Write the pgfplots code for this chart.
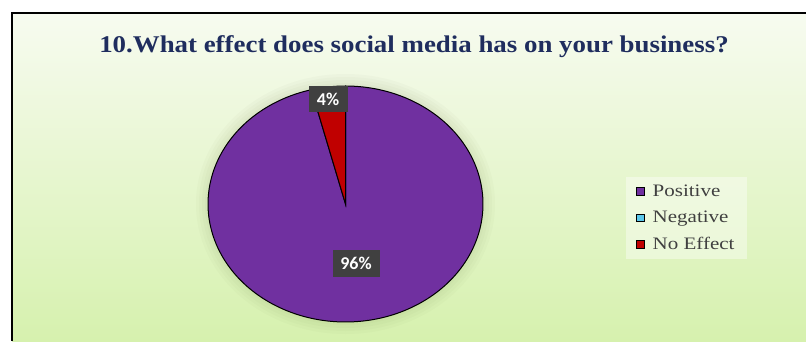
\documentclass[border=0pt]{standalone}
\usepackage{pgfplots}
\pgfplotsset{compat=1.18}
\usepackage{pgfplotstable}
\usepackage{graphicx}
\usepackage{fontspec}
\setmainfont{Liberation Serif}
\newfontfamily\labfont{Carlito}
\definecolor{pPurple}{RGB}{112,48,160}
\definecolor{pBlue}{RGB}{91,200,235}
\definecolor{pRed}{RGB}{192,0,0}
\definecolor{titleNavy}{RGB}{31,45,94}
\definecolor{labGray}{RGB}{64,64,64}
\definecolor{bgTop}{RGB}{247,251,240}
\definecolor{bgBot}{RGB}{214,241,174}
\definecolor{legTxt}{RGB}{64,64,64}
\definecolor{glow}{RGB}{110,120,70}

\pgfplotstableread[col sep=comma]{
label,value
Positive,96
Negative,0
No Effect,4
}\piedata
\pgfplotstablegetelem{0}{value}\of\piedata \let\vA\pgfplotsretval
\pgfplotstablegetelem{1}{value}\of\piedata \let\vB\pgfplotsretval
\pgfplotstablegetelem{2}{value}\of\piedata \let\vC\pgfplotsretval
\pgfmathsetmacro\aA{3.6*\vA}
\pgfmathsetmacro\aB{\aA+3.6*\vB}
\pgfmathsetmacro\aC{\aB+3.6*\vC}

\begin{document}%
\begin{tikzpicture}
\begin{axis}[
  width=806pt, height=341pt, scale only axis,
  xmin=0, xmax=806, ymin=0, ymax=341,
  hide axis, clip=false,
  legend style={at={(axis cs:626,164)}, anchor=north west,
    fill=white, fill opacity=0.4, text opacity=1, draw=none,
    font=\fontsize{17.5}{19}\selectfont\color{legTxt},
    row sep=9pt, inner xsep=10pt, inner ysep=6pt,
    /tikz/every odd column/.append style={column sep=6pt}},
  legend cell align=left,
  legend image code/.code={\draw[#1, draw=black, fill opacity=1, draw opacity=1, line width=1pt] (0pt,-3.75pt) rectangle (7.5pt,3.75pt);},
]
% background and frame
\coordinate (BL) at (axis cs:0,0);
\coordinate (TR) at (axis cs:806,341);
\shade[top color=bgTop, bottom color=bgBot] (axis cs:12,0) rectangle (axis cs:806,328);
\draw[line width=2.5pt] (axis cs:12,0) -- (axis cs:12,328) -- (axis cs:808,328);
% title
\node[anchor=base, font=\fontsize{24}{28}\selectfont\bfseries, text=titleNavy]
  at (axis cs:414,289) {\scalebox{1.12}[1]{10.What effect does social media has on your business?}};
% soft glow
\fill[glow, opacity=0.03] (axis cs:345.5,137) ellipse [x radius=149.5, y radius=130];
\fill[glow, opacity=0.03] (axis cs:345.5,137) ellipse [x radius=146.5, y radius=127];
\fill[glow, opacity=0.03] (axis cs:345.5,137) ellipse [x radius=143.5, y radius=124];
\fill[glow, opacity=0.03] (axis cs:345.5,137) ellipse [x radius=140.5, y radius=121];
% slices
\addplot[fill=pPurple, draw=black, line width=1pt, domain=0:\aA, samples=200, variable=\t, forget plot]
  ({345.5+137.5*sin(\t)},{137+118*cos(\t)}) -- (axis cs:345.5,137) -- cycle;
\addplot[fill=pRed, draw=black, line width=1pt, domain=\aB:\aC, samples=30, variable=\t, forget plot]
  ({345.5+137.5*sin(\t)},{137+118*cos(\t)}) -- (axis cs:345.5,137) -- cycle;
% data labels
\node[fill=labGray, text=white, font=\labfont\bfseries\fontsize{18}{20}\selectfont,
  minimum width=39pt, minimum height=26pt, inner sep=0pt] at (axis cs:328,242) {4\%};
\node[fill=labGray, text=white, font=\labfont\bfseries\fontsize{18}{20}\selectfont,
  minimum width=47pt, minimum height=27pt, inner sep=0pt] at (axis cs:356,77.5) {96\%};
% legend
\addlegendimage{fill=pPurple}\addlegendentry{\scalebox{1.2}[1]{Positive}}
\addlegendimage{fill=pBlue}\addlegendentry{\scalebox{1.2}[1]{Negative}}
\addlegendimage{fill=pRed}\addlegendentry{\scalebox{1.2}[1]{No Effect}}
\end{axis}
\pgfresetboundingbox
\path (BL) rectangle (TR);
\end{tikzpicture}%
\end{document}
